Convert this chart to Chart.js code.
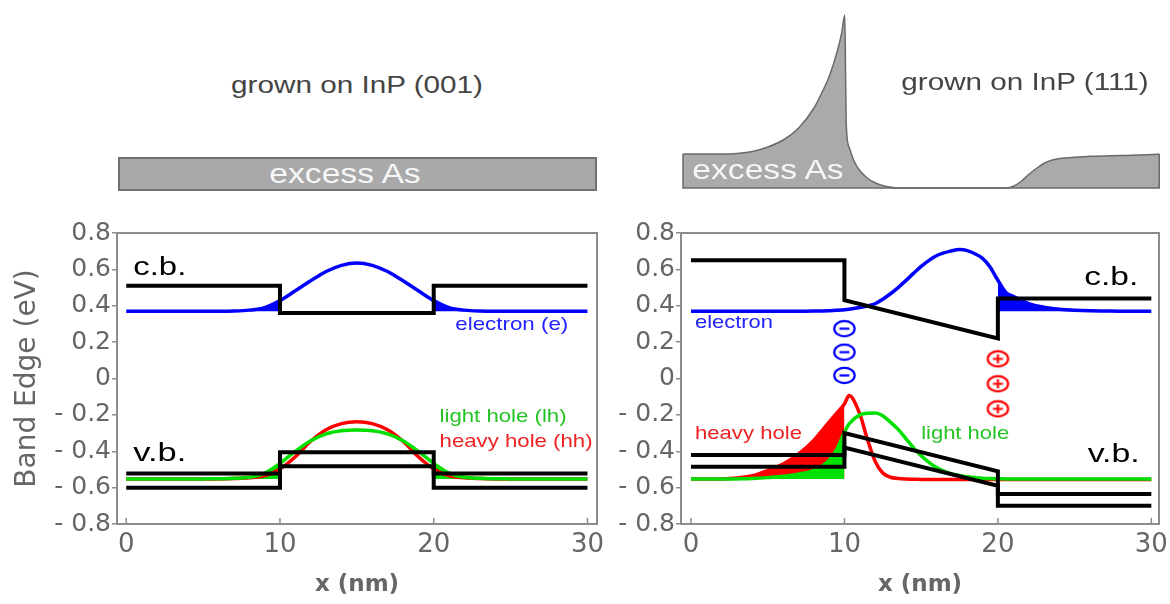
<!DOCTYPE html>
<html>
<head>
<meta charset="utf-8">
<script src="https://cdn.jsdelivr.net/npm/chart.js@4.4.1/dist/chart.umd.min.js"></script>
<style>
  body { margin: 0; background: #fff; }
  #fig { position: relative; width: 1170px; height: 604px; overflow: hidden; font-family: 'Liberation Sans', Arial, sans-serif; }
  canvas { position: absolute; }
  .lbl { position: absolute; white-space: nowrap; transform-origin: center; line-height: 1; }
  .title { color: #444; font-size: 23px; transform: translate(-50%, -50%) scaleX(1.29); }
  .excess { color: #f6f6f6; font-size: 28px; transform: translate(-50%, -50%) scaleX(1.2); }
  #bar001 { position: absolute; left: 118px; top: 157px; width: 479px; height: 34px; box-sizing: border-box; background: #a9a9a9; border: 2px solid #707070; }
</style>
</head>
<body>
<div id="fig">
  <div class="lbl title" style="left:357px; top:85px">grown on InP (001)</div>
  <div id="bar001"></div>
  <div class="lbl excess" style="left:345px; top:174px">excess As</div>
  <canvas id="as111" width="570" height="200" style="left:600px; top:0"></canvas>
  <div class="lbl title" style="left:1025px; top:82px">grown on InP (111)</div>
  <div class="lbl excess" style="left:768px; top:170px">excess As</div>
  <canvas id="band111" width="570" height="404" style="left:600px; top:200px"></canvas>
  <canvas id="band001" width="620" height="404" style="left:0; top:200px"></canvas>
</div>
<script>
Chart.defaults.font.family = "'DejaVu Sans', sans-serif";

// axes
const xTicks = [0, 10, 20, 30];
const xTickLabels = ['0', '10', '20', '30'];
const yTicks = [-0.8, -0.6, -0.4, -0.2, 0, 0.2, 0.4, 0.6, 0.8];
const yTickLabels = ['- 0.8', '- 0.6', '- 0.4', '- 0.2', '0', '0.2', '0.4', '0.6', '0.8'];

// band edges (corner points, eV)
const edgeX = [0, 10, 10, 20, 20, 30];
const cb001 = [0.51, 0.51, 0.36, 0.36, 0.51, 0.51];
const vbTop001 = [-0.522, -0.522, -0.405, -0.405, -0.522, -0.522];
const vbBot001 = [-0.60, -0.60, -0.483, -0.483, -0.60, -0.60];
const cb111 = [0.65, 0.65, 0.43, 0.22, 0.44, 0.44];
const vbTop111 = [-0.42, -0.42, -0.30, -0.51, -0.635, -0.635];
const vbBot111 = [-0.485, -0.485, -0.38, -0.59, -0.70, -0.70];

// confined states, (001)
const x001 = [0, 1, 2, 3, 4, 5, 6, 7, 8, 9, 10, 11, 12, 13, 14, 15, 16, 17, 18, 19, 20, 21, 22, 23, 24, 25, 26, 27, 28, 29, 30];
const e001 = [0.37, 0.37, 0.37, 0.37, 0.37, 0.37, 0.37, 0.371, 0.376, 0.39, 0.428, 0.482, 0.537, 0.588, 0.622, 0.635,
              0.622, 0.588, 0.537, 0.482, 0.428, 0.39, 0.376, 0.371, 0.37, 0.37, 0.37, 0.37, 0.37, 0.37, 0.37];
const hh001 = [-0.553, -0.553, -0.553, -0.553, -0.553, -0.553, -0.552, -0.55, -0.546, -0.535, -0.497, -0.43, -0.345, -0.282, -0.248, -0.238,
               -0.248, -0.282, -0.345, -0.43, -0.497, -0.535, -0.546, -0.55, -0.552, -0.553, -0.553, -0.553, -0.553, -0.553, -0.553];
const lh001 = [-0.553, -0.553, -0.553, -0.553, -0.553, -0.552, -0.551, -0.549, -0.543, -0.52, -0.467, -0.40, -0.342, -0.304, -0.287, -0.283,
               -0.287, -0.304, -0.342, -0.40, -0.467, -0.52, -0.543, -0.549, -0.551, -0.552, -0.553, -0.553, -0.553, -0.553, -0.553];

// confined states, (111)
const x111 = [0, 1, 2, 3, 4, 5, 6, 7, 8, 9, 9.5, 10, 10.3, 11, 11.5, 12, 12.5, 13, 13.5, 14, 14.5, 15,
              16, 17, 17.5, 18, 19, 19.5, 20, 20.5, 21, 22, 23, 24, 25, 26, 27, 28, 29, 30];
const e111 = [0.37, 0.37, 0.37, 0.37, 0.37, 0.37, 0.37, 0.37, 0.371, 0.373, 0.375, 0.378, 0.381, 0.39, 0.399, 0.411, 0.436, 0.466, 0.5, 0.538, 0.578, 0.617,
              0.675, 0.702, 0.709, 0.703, 0.66, 0.612, 0.54, 0.475, 0.452, 0.412, 0.392, 0.381, 0.375, 0.372, 0.371, 0.37, 0.37, 0.37];
const hh111 = [-0.553, -0.553, -0.552, -0.547, -0.535, -0.506, -0.47, -0.416, -0.34, -0.24, -0.19, -0.14, -0.094, -0.195, -0.335, -0.455, -0.52, -0.543, -0.55, -0.553, -0.554, -0.555,
               -0.555, -0.555, -0.555, -0.555, -0.555, -0.555, -0.555, -0.555, -0.555, -0.555, -0.555, -0.555, -0.555, -0.555, -0.555, -0.555, -0.555, -0.555];
const lh111 = [-0.553, -0.553, -0.553, -0.552, -0.55, -0.545, -0.538, -0.526, -0.505, -0.45, -0.39, -0.296, -0.25, -0.2, -0.191, -0.19, -0.205, -0.24, -0.28, -0.33, -0.38, -0.425,
               -0.49, -0.525, -0.533, -0.54, -0.548, -0.55, -0.551, -0.552, -0.553, -0.553, -0.553, -0.553, -0.553, -0.553, -0.553, -0.553, -0.553, -0.553];
const eLevel = 0.37;
const hLevel = -0.553;

// interface charges (111)
const negX = [10, 10, 10];
const negY = [0.274, 0.145, 0.017];
const posX = [20, 20, 20];
const posY = [0.108, -0.029, -0.167];

// excess As profile (111), arbitrary units
const asX = [-0.52, 0, 1, 2, 3, 4, 5, 6, 7, 8, 8.5, 9, 9.5, 9.8, 10, 10.05, 10.1, 10.3, 10.6, 11, 11.5, 12, 12.7, 13.5,
             20.5, 21, 21.5, 22, 22.5, 23, 23.5, 24, 25, 26, 28, 30, 30.45];
const asLevel = [34, 34, 34, 34, 34.5, 36.5, 41, 48, 60, 80, 95, 112, 136, 155, 173, 118, 62, 40, 27, 17, 9.5, 5, 1.5, 0,
                 0, 2, 7, 14, 20, 25, 28, 29.5, 30.8, 31.7, 32.6, 33.5, 34];

const BLUE = '#0000ff', RED = '#ff0000', GREEN = '#00e000';
const AXIS_TEXT = '#666';
const pts = (xs, ys) => xs.map((x, i) => ({ x: x, y: ys[i] }));

function edgeLine(ys) {
    return { data: pts(edgeX, ys), showLine: true, borderColor: '#000', borderWidth: 4, pointRadius: 0,
             borderJoinStyle: 'miter', order: 1 };
}
function curve(xs, ys, color, order) {
    return { data: pts(xs, ys), showLine: true, borderColor: color, borderWidth: 3.5, pointRadius: 0,
             cubicInterpolationMode: 'monotone', order: order };
}
// shaded tails inside the barriers
function tails(xs, ys, base, color, order) {
    const all = pts(xs, ys);
    return [all.filter(p => p.x <= 10), all.filter(p => p.x >= 20)].map(d => ({
        data: d, showLine: true, borderWidth: 0, borderColor: 'rgba(0,0,0,0)', backgroundColor: color,
        pointRadius: 0, cubicInterpolationMode: 'monotone', fill: { value: base }, order: order
    }));
}
function chargeIcon(color, plus) {
    const c = document.createElement('canvas');
    c.width = 25; c.height = 19;
    const g = c.getContext('2d');
    g.strokeStyle = color;
    g.lineWidth = 2.2;
    g.beginPath();
    g.ellipse(12.5, 9.5, 10.2, 7.6, 0, 0, Math.PI * 2);
    g.stroke();
    g.beginPath();
    g.moveTo(7.5, 9.5); g.lineTo(17.5, 9.5);
    if (plus) { g.moveTo(12.5, 5); g.lineTo(12.5, 14); }
    g.stroke();
    return c;
}

// frame + inward x ticks
const framePlugin = {
    id: 'frame',
    afterDraw(chart) {
        const { ctx, chartArea: a, scales: { x } } = chart;
        ctx.save();
        ctx.strokeStyle = '#8c8c8c';
        ctx.lineWidth = 2;
        ctx.strokeRect(a.left, a.top, a.right - a.left, a.bottom - a.top);
        ctx.lineWidth = 1.5;
        x.ticks.forEach(t => {
            const px = x.getPixelForValue(t.value);
            ctx.beginPath();
            ctx.moveTo(px, a.bottom);
            ctx.lineTo(px, a.bottom - 6);
            ctx.stroke();
        });
        ctx.restore();
    }
};

// text labels inside the plots
function notesPlugin(notes) {
    return {
        id: 'notes',
        afterDatasetsDraw(chart) {
            const { ctx, scales: { x, y } } = chart;
            notes.forEach(n => {
                ctx.save();
                ctx.font = n.size + "px 'Liberation Sans', Arial, sans-serif";
                const sx = n.w / ctx.measureText(n.text).width;
                ctx.translate(x.getPixelForValue(n.x), y.getPixelForValue(n.y));
                ctx.scale(sx, 1);
                ctx.fillStyle = n.color;
                ctx.textAlign = 'left';
                ctx.textBaseline = 'alphabetic';
                ctx.fillText(n.text, 0, 0);
                ctx.restore();
            });
        }
    };
}

function bandChart(id, cfg) {
    return new Chart(document.getElementById(id), {
        type: 'scatter',
        data: { datasets: cfg.datasets },
        options: {
            responsive: false,
            animation: false,
            devicePixelRatio: 1,
            layout: { padding: { left: 0, right: cfg.padRight, top: 33, bottom: 0 } },
            plugins: { legend: { display: false }, tooltip: { enabled: false } },
            scales: {
                x: {
                    type: 'linear', min: cfg.xMin, max: cfg.xMax,
                    afterBuildTicks: s => { s.ticks = xTicks.map(v => ({ value: v })); },
                    afterFit: s => { s.height = 80; s.paddingLeft = 0; s.paddingRight = 0; },
                    ticks: { callback: (v, i) => xTickLabels[i], color: AXIS_TEXT, font: { size: 26 },
                             padding: 6, maxRotation: 0, autoSkip: false },
                    grid: { display: false, drawTicks: false },
                    border: { display: false },
                    title: { display: true, text: 'x (nm)', color: AXIS_TEXT, font: { size: 23, weight: 'bold' },
                             padding: { top: 0, bottom: 5 } }
                },
                y: {
                    type: 'linear', min: -0.8, max: 0.8,
                    afterBuildTicks: s => { s.ticks = yTicks.map(v => ({ value: v })); },
                    afterFit: s => { s.width = cfg.yWidth; s.paddingTop = 0; s.paddingBottom = 0; },
                    ticks: { callback: (v, i) => yTickLabels[i], color: AXIS_TEXT, font: { size: 25 }, padding: 1 },
                    grid: { drawOnChartArea: false, drawTicks: true, tickLength: 5, color: '#8c8c8c', lineWidth: 1.5 },
                    border: { display: false },
                    title: cfg.yTitle
                        ? { display: true, text: cfg.yTitle, color: AXIS_TEXT, font: { size: 28 }, padding: { top: 11, bottom: 0 } }
                        : { display: false }
                }
            }
        },
        plugins: [framePlugin, notesPlugin(cfg.notes)]
    });
}

// (001) panel
bandChart('band001', {
    xMin: -0.6, xMax: 30.62, padRight: 23, yWidth: 117, yTitle: 'Band Edge (eV)',
    datasets: [
        edgeLine(cb001), edgeLine(vbTop001), edgeLine(vbBot001),
        curve(x001, lh001, GREEN, 2),
        curve(x001, hh001, RED, 3),
        curve(x001, e001, BLUE, 3),
        ...tails(x001, lh001, hLevel, GREEN, 4),
        ...tails(x001, hh001, hLevel, RED, 5),
        ...tails(x001, e001, eLevel, BLUE, 5)
    ],
    notes: [
        { text: 'c.b.', x: 0.46, y: 0.567, color: '#000', size: 25, w: 53 },
        { text: 'v.b.', x: 0.46, y: -0.452, color: '#000', size: 25, w: 53 },
        { text: 'electron (e)', x: 21.4, y: 0.264, color: '#2323ff', size: 19, w: 113 },
        { text: 'light hole (lh)', x: 20.38, y: -0.241, color: '#25c425', size: 19, w: 127 },
        { text: 'heavy hole (hh)', x: 20.38, y: -0.375, color: '#ee2222', size: 19, w: 153 }
    ]
});

// (111) panel
bandChart('band111', {
    xMin: -0.65, xMax: 30.5, padRight: 10, yWidth: 81, yTitle: null,
    datasets: [
        { data: pts(negX, negY), pointStyle: chargeIcon(BLUE, false), pointRadius: 10, showLine: false, order: 0 },
        { data: pts(posX, posY), pointStyle: chargeIcon(RED, true), pointRadius: 10, showLine: false, order: 0 },
        edgeLine(cb111), edgeLine(vbTop111), edgeLine(vbBot111),
        curve(x111, lh111, GREEN, 2),
        curve(x111, hh111, RED, 3),
        curve(x111, e111, BLUE, 3),
        ...tails(x111, lh111, hLevel, GREEN, 4),
        ...tails(x111, hh111, hLevel, RED, 5),
        ...tails(x111, e111, eLevel, BLUE, 5)
    ],
    notes: [
        { text: 'electron', x: 0.26, y: 0.279, color: '#2323ff', size: 19, w: 78 },
        { text: 'c.b.', x: 25.63, y: 0.512, color: '#000', size: 25, w: 54 },
        { text: 'heavy hole', x: 0.26, y: -0.332, color: '#ee2222', size: 19, w: 107 },
        { text: 'light hole', x: 15.0, y: -0.332, color: '#25c425', size: 19, w: 88 },
        { text: 'v.b.', x: 25.85, y: -0.461, color: '#000', size: 25, w: 52 }
    ]
});

// excess As profile above the (111) panel
const asPts = pts(asX, asLevel);
const asEdge = [
    { x: asX[0], y: asLevel[0] }, { x: asX[0], y: 0 },
    { x: asX[asX.length - 1], y: 0 }, { x: asX[asX.length - 1], y: asLevel[asLevel.length - 1] }
];
new Chart(document.getElementById('as111'), {
    type: 'scatter',
    data: {
        datasets: [
            { data: asEdge, showLine: true, borderColor: '#6a6a6a', borderWidth: 1.5, pointRadius: 0, clip: false },
            { data: asPts, showLine: true, cubicInterpolationMode: 'monotone', borderColor: '#6a6a6a', borderWidth: 1.5,
              backgroundColor: '#aaaaaa', fill: 'origin', pointRadius: 0, clip: false }
        ]
    },
    options: {
        responsive: false,
        animation: false,
        devicePixelRatio: 1,
        layout: { padding: { left: 81, right: 10, top: 10, bottom: 12 } },
        plugins: { legend: { display: false }, tooltip: { enabled: false } },
        scales: {
            x: { type: 'linear', display: false, min: -0.65, max: 30.5 },
            y: { type: 'linear', display: false, min: 0, max: 178 }
        }
    }
});
</script>
</body>
</html>
